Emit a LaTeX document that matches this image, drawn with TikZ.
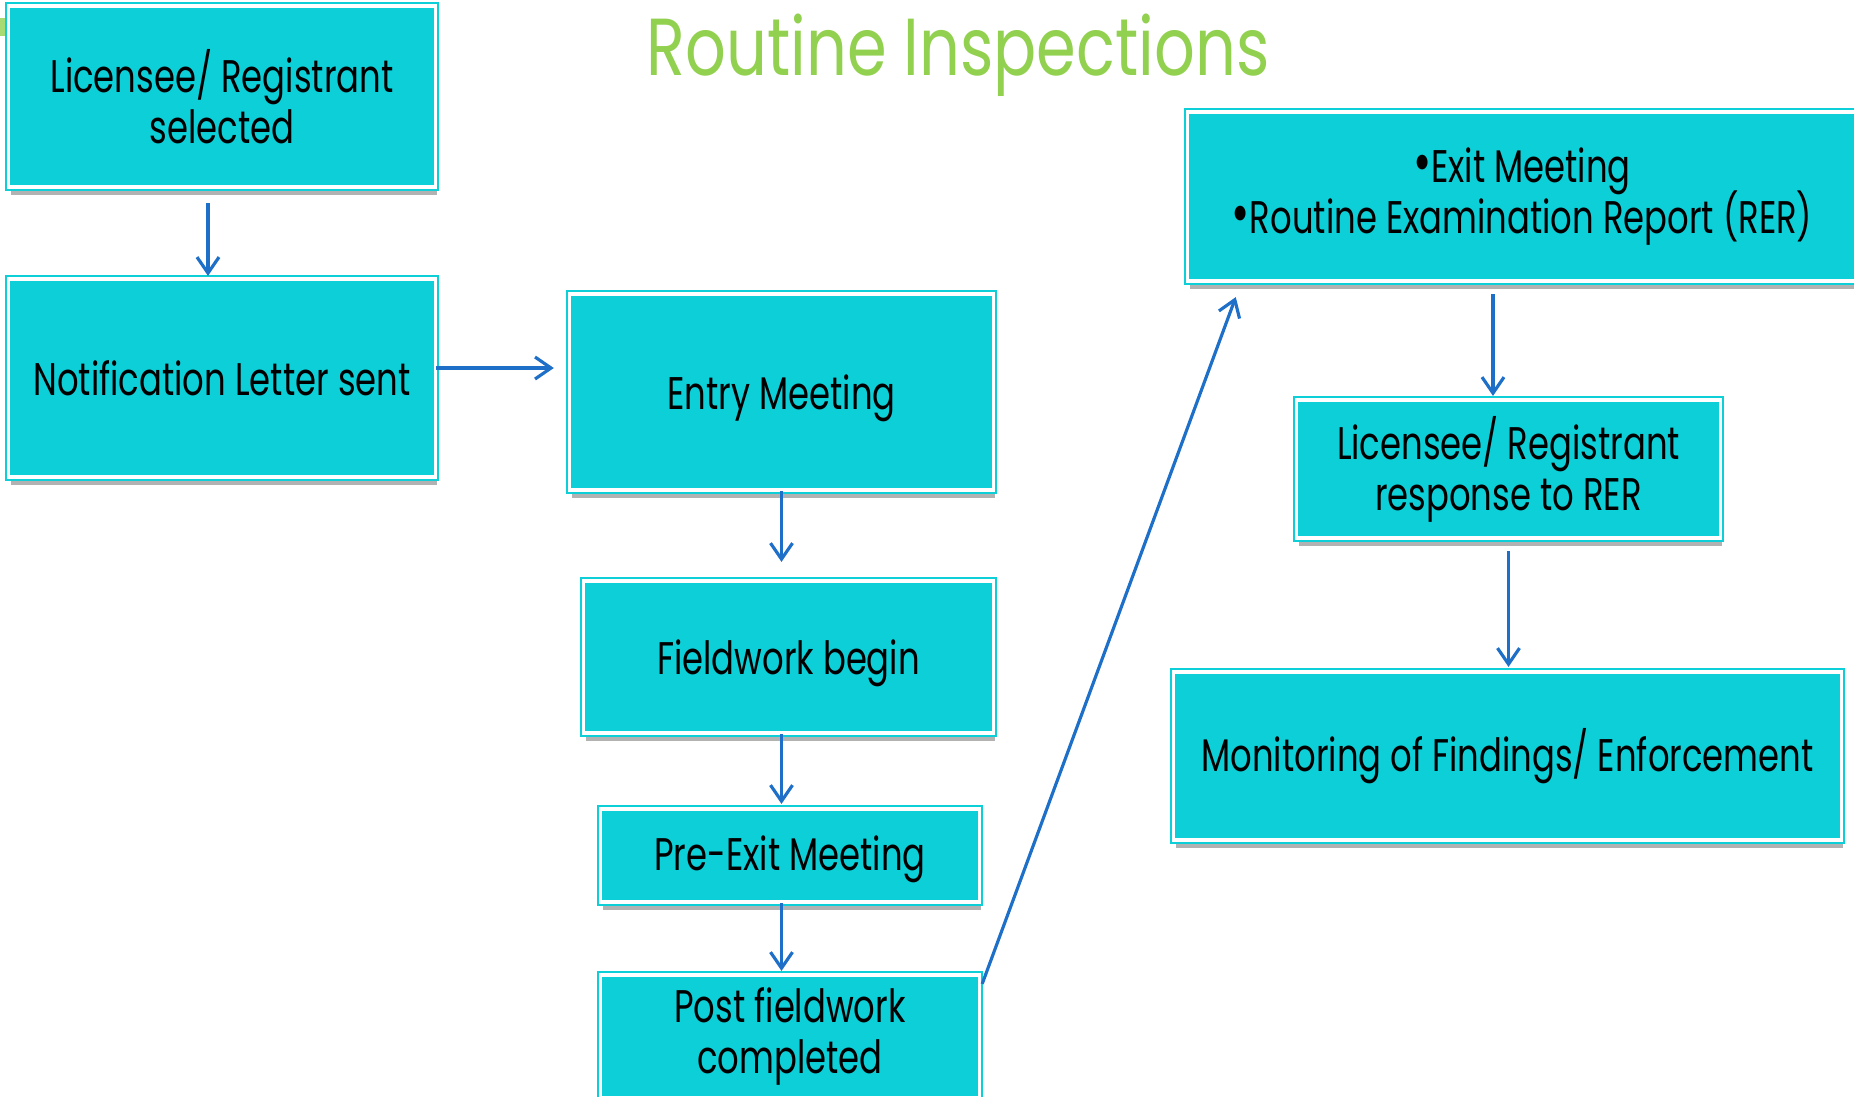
\documentclass[tikz,border=0pt]{standalone}
\usepackage{fontspec}
\setmainfont{Poppins}[FakeStretch=0.74]
\newfontfamily\titlefont{Poppins}[FakeStretch=0.79]
\usetikzlibrary{arrows.meta,calc}
\definecolor{boxcyan}{HTML}{0CCFD8}
\definecolor{titlegreen}{HTML}{92D050}
\definecolor{arrowblue}{HTML}{1E6FC8}
\newcommand{\bul}{\raisebox{0pt}[0pt][0pt]{\fontsize{17}{17}\selectfont•}}
\newcommand{\low}[2][0.06cm]{\raisebox{-#1}[\height][\depth]{#2}}
\tikzset{
  stepbox/.style={rectangle, fill=boxcyan, draw=boxcyan, double=white,
    double distance=0.9pt, line width=0.6pt, inner sep=0pt, align=center,
    font=\fontsize{13}{14.5}\selectfont, execute at begin node={\lineskiplimit=-20pt},
    preaction={draw=none, fill=black!30, transform canvas={xshift=0.6pt, yshift=-2.2pt}}},
  flow/.style={arrowblue, line width=0.9pt, -{Straight Barb[length=0.16cm,width=0.22cm]}}
}
\begin{document}
\begin{tikzpicture}[x=0.01cm, y=-0.01cm]
    \useasboundingbox (0,0) rectangle (1854,1096);
    \fill[titlegreen!80!white] (0,18) rectangle (8,36);
    \node[text=titlegreen, font=\titlefont\fontsize{23}{28}\selectfont] (title) at (958,55) {Routine Inspections};
    \node[stepbox, minimum width=4.26cm, minimum height=1.81cm] (sel) at (222,96.5) {Licensee/ Registrant\\selected};
    \node[stepbox, minimum width=4.26cm, minimum height=1.98cm] (notif) at (222,378) {Notification Letter sent};
    \node[stepbox, minimum width=4.23cm, minimum height=1.96cm] (entry) at (781.5,392) {\low{Entry Meeting}};
    \node[stepbox, minimum width=4.09cm, minimum height=1.52cm] (field) at (788.5,657) {\low{Fieldwork begin}};
    \node[stepbox, minimum width=3.78cm, minimum height=0.93cm] (preexit) at (790,855.5) {\low[0.035cm]{Pre-Exit Meeting}};
    \node[stepbox, minimum width=3.78cm, minimum height=1.23cm] (post) at (790,1036.5) {Post fieldwork\\completed};
    \node[stepbox, minimum width=6.68cm, minimum height=1.69cm] (exit) at (1522,196.5) {\bul Exit Meeting\\\bul Routine Examination Report (RER)};
    \node[stepbox, minimum width=4.23cm, minimum height=1.38cm] (resp) at (1508.5,469) {Licensee/ Registrant\\response to RER};
    \node[stepbox, minimum width=6.67cm, minimum height=1.68cm] (monit) at (1507.5,756) {Monitoring of Findings/ Enforcement};
    % connectors
    \draw[flow] ($(sel.south)+(-14,15)$) -- ($(notif.north)+(-14,-2)$);
    \draw[flow] ($(notif.east)+(0,-10)$) -- ($(notif.east -| entry.west)+(-15,-10)$);
    \draw[flow] (entry.south) -- ($(entry.south |- field.north)+(0,-18)$);
    \draw[flow] (entry.south |- field.south) -- ($(entry.south |- preexit.north)+(0,-4)$);
    \draw[flow] (entry.south |- preexit.south) -- ($(entry.south |- post.north)+(0,-3)$);
    \draw[flow] ($(post.north east)+(2,10)$) -- ($(exit.south west)+(49,15)$);
    \draw[flow] ($(resp.north |- exit.south)+(-15.5,12)$) -- ($(resp.north)+(-15.5,-3)$);
    \draw[flow] ($(resp.south)+(0,12)$) -- ($(resp.south |- monit.north)+(0,-4)$);
\end{tikzpicture}
\end{document}
